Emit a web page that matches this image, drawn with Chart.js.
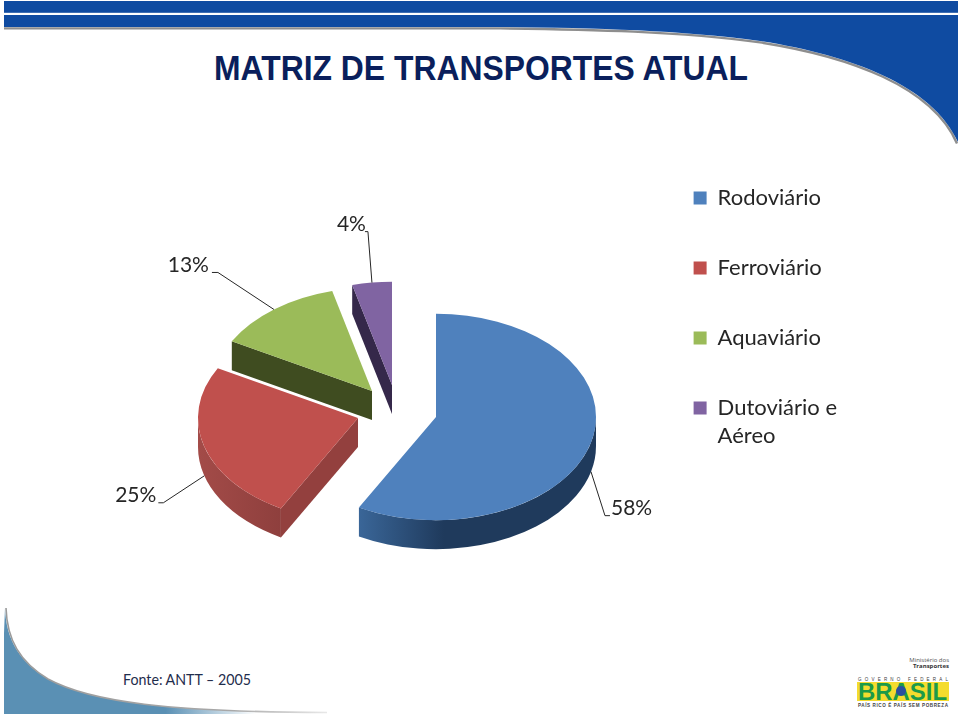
<!DOCTYPE html>
<html lang="pt-BR">
<head>
<meta charset="utf-8">
<title>Matriz de Transportes Atual</title>
<script src="https://cdn.jsdelivr.net/npm/chart.js@4"></script>
<style>
  html, body { margin: 0; padding: 0; background: #fff; }
  #stage { position: relative; width: 960px; height: 716px; overflow: hidden; }
  #decor, #chart { position: absolute; left: 0; top: 0; }
</style>
</head>
<body>
<div id="stage">
  <svg id="decor" width="960" height="716" viewBox="0 0 960 716">
    <defs>
      <linearGradient id="footFill" x1="0" x2="1" y1="0" y2="0">
        <stop offset="0" stop-color="#5a90b4"/>
        <stop offset="0.5" stop-color="#5a90b4"/>
        <stop offset="0.78" stop-color="#ffffff"/>
      </linearGradient>
      <linearGradient id="footEdge" x1="0" x2="1" y1="0" y2="0">
        <stop offset="0" stop-color="#9a9a9a"/>
        <stop offset="0.7" stop-color="#a8a8a8"/>
        <stop offset="1" stop-color="#e8e8e8"/>
      </linearGradient>
    </defs>
    <!-- faixa azul do topo -->
    <path d="M4,27 H500 C590,28 680,30 760,41 C850,55 932,85 957,142" fill="none" stroke="#8e8e8e" stroke-width="2.4" transform="translate(0,1.4)"/>
    <path d="M4,1 H958 V142 C932,85 850,55 760,41 C680,30 590,28 500,27 H4 Z" fill="#0f4ba1"/>
    <rect x="4" y="12.8" width="954" height="2.2" fill="#ffffff"/>
    <text x="214" y="80" font-family="Liberation Sans" font-weight="700" font-size="35" fill="#0a1f5c" textLength="534" lengthAdjust="spacingAndGlyphs">MATRIZ DE TRANSPORTES ATUAL</text>
    <!-- curva do rodape -->
    <path d="M5,608 C6,640 20,662 48,679 C90,702 170,712 327,712.5 L327,714 H4 V633 Z" fill="url(#footFill)"/>
    <path d="M6,608 C7,640 20,662 48,679 C90,702 170,712 327,712.5" fill="none" stroke="url(#footEdge)" stroke-width="1.6"/>
    <text x="123" y="685" font-family="Lato" font-size="15.4" fill="#1f2d4d" textLength="128" lengthAdjust="spacingAndGlyphs">Fonte: ANTT – 2005</text>
    <!-- logos -->
    <text x="949" y="662" text-anchor="end" font-family="Open Sans" font-size="6" fill="#555">Ministério dos</text>
    <text x="949" y="668" text-anchor="end" font-family="Open Sans" font-size="6" font-weight="700" fill="#333">Transportes</text>
    <text x="858" y="681" font-family="Liberation Sans" font-size="4.5" fill="#3c3c3c" textLength="90">GOVERNO FEDERAL</text>
    <rect x="857" y="682" width="92" height="19" fill="#f4dc2e"/>
    <text x="858" y="700" font-family="Liberation Sans" font-weight="700" font-size="24" fill="#1c9a49" textLength="89" lengthAdjust="spacingAndGlyphs">BRASIL</text>
    <circle cx="901" cy="691" r="5" fill="#2b4f9e"/>
    <text x="858" y="706.5" font-family="Liberation Sans" font-weight="700" font-size="4.6" fill="#444" textLength="90">PAÍS RICO É PAÍS SEM POBREZA</text>
  </svg>
  <canvas id="chart" width="960" height="716"></canvas>
</div>
<script>
const categories = ['Rodoviário', 'Ferroviário', 'Aquaviário', ['Dutoviário e', 'Aéreo']];
const shares = [58, 25, 13, 4];

const topColors = ['#4f81bd', '#c0504d', '#9bbb59', '#8064a2'];
const wallColors = [['#3a6698', '#1f3a5c'], ['#a34b48', '#8e3f3d'], ['#3f4c20', '#3f4c20'], ['#35284a', '#35284a']];
const faceColors = ['#1f3a5c', '#93403e', '#3f4c20', '#35284a'];

// pie look: flattened disc with a wall below it
const TILT = 0.645;
const DEPTH = 29;
const PIE = { x: 397, y: 405, r: 160 };
const sliceShift = [[39, 12], [-39, 13], [-25, -14], [-5, -20]];

// leader line: elbow relative to the rim, then a short tail towards the text
const leaders = [
  { elbow: [14, 44], tail: 5, text: [1, -7] },
  { elbow: [-41, 27], tail: -5, text: [-2, -8] },
  { elbow: [-56, -37], tail: -6, text: [-3, -7] },
  { elbow: [-4, -51], tail: -3, text: [1, -7] }
];

function wallPath(ctx, el, from, to, d) {
  ctx.beginPath();
  ctx.arc(el.x, el.y, el.outerRadius, from, to);
  ctx.arc(el.x, el.y + d, el.outerRadius, to, from, true);
  ctx.closePath();
}

function facePath(ctx, el, angle, d) {
  const ex = el.x + el.outerRadius * Math.cos(angle);
  const ey = el.y + el.outerRadius * Math.sin(angle);
  ctx.beginPath();
  ctx.moveTo(el.x, el.y);
  ctx.lineTo(ex, ey);
  ctx.lineTo(ex, ey + d);
  ctx.lineTo(el.x, el.y + d);
  ctx.closePath();
}

const pie3d = {
  id: 'pie3d',
  afterDatasetsUpdate(chart) {
    chart.getDatasetMeta(0).data.forEach((el, i) => {
      el.x = PIE.x + sliceShift[i][0];
      el.y = PIE.y + sliceShift[i][1] / TILT;
    });
  },
  beforeDatasetsDraw(chart) {
    const ctx = chart.ctx;
    const d = DEPTH / TILT;
    ctx.save();
    ctx.translate(0, PIE.y);
    ctx.scale(1, TILT);
    ctx.translate(0, -PIE.y);
    chart.getDatasetMeta(0).data.forEach((el, i) => {
      const a0 = el.startAngle, a1 = el.endAngle;
      ctx.fillStyle = faceColors[i];
      if (Math.cos(a0) < -1e-6) { facePath(ctx, el, a0, d); ctx.fill(); }
      if (Math.cos(a1) > 1e-6) { facePath(ctx, el, a1, d); ctx.fill(); }
      const from = Math.max(a0, 0), to = Math.min(a1, Math.PI);
      if (to > from) {
        const x0 = el.x + el.outerRadius * Math.cos(to);
        const g = ctx.createLinearGradient(x0, 0, x0 + 85, 0);
        g.addColorStop(0, wallColors[i][0]);
        g.addColorStop(1, wallColors[i][1]);
        ctx.fillStyle = g;
        wallPath(ctx, el, from, to, d);
        ctx.fill();
      }
    });
  },
  afterDatasetsDraw(chart) {
    const ctx = chart.ctx;
    ctx.restore();
    ctx.save();
    ctx.strokeStyle = '#262626';
    ctx.lineWidth = 1;
    ctx.fillStyle = '#262626';
    ctx.font = '21px Lato';
    ctx.textBaseline = 'middle';
    chart.getDatasetMeta(0).data.forEach((el, i) => {
      const mid = (el.startAngle + el.endAngle) / 2;
      const rimX = el.x + el.outerRadius * Math.cos(mid);
      const rimY = PIE.y + (el.y - PIE.y) * TILT + el.outerRadius * TILT * Math.sin(mid) + (Math.sin(mid) > 0 ? DEPTH : 0);
      const l = leaders[i];
      const bx = rimX + l.elbow[0], by = rimY + l.elbow[1];
      ctx.beginPath();
      ctx.moveTo(rimX, rimY);
      ctx.lineTo(bx, by);
      ctx.lineTo(bx + l.tail, by);
      ctx.stroke();
      ctx.textAlign = l.tail > 0 ? 'left' : 'right';
      ctx.fillText(shares[i] + '%', bx + l.tail + l.text[0], by + l.text[1]);
    });
    ctx.restore();
  }
};

new Chart(document.getElementById('chart'), {
  type: 'pie',
  data: {
    labels: categories,
    datasets: [{
      data: shares,
      backgroundColor: topColors,
      borderWidth: 0,
      radius: PIE.r,
      clip: false
    }]
  },
  options: {
    responsive: false,
    animation: false,
    layout: { padding: { top: 139, right: 113, bottom: 20, left: 0 } },
    plugins: {
      legend: {
        position: 'right',
        align: 'start',
        labels: {
          color: '#262626',
          font: { family: 'Lato', size: 22, lineHeight: 1.27 },
          boxWidth: 13,
          boxHeight: 13,
          padding: 48
        }
      },
      tooltip: { enabled: false }
    }
  },
  plugins: [pie3d]
});
</script>
</body>
</html>
